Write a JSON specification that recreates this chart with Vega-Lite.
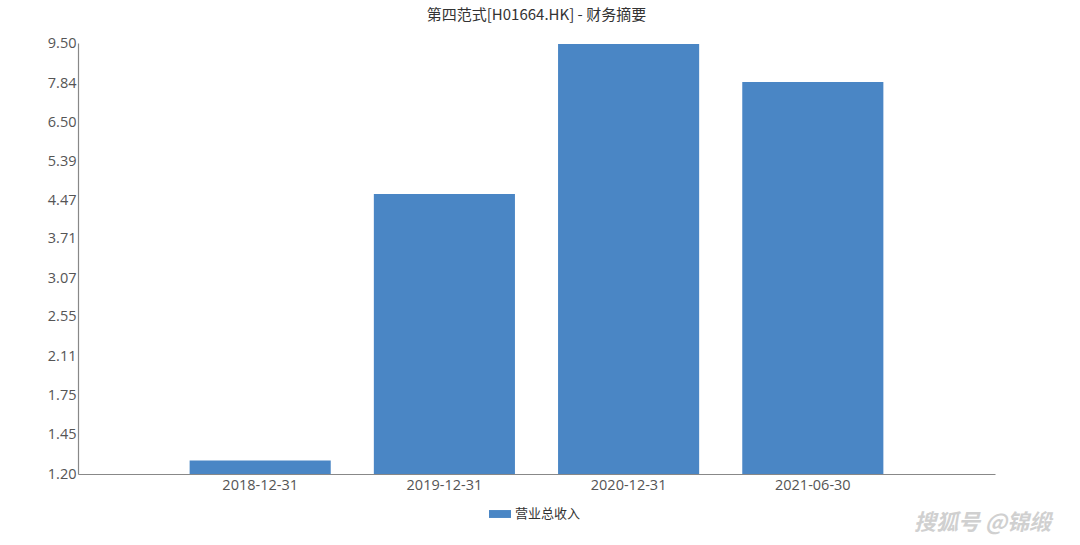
{
  "$schema": "https://vega.github.io/schema/vega-lite/v6.json",
  "width": 917,
  "height": 431,
  "autosize": {"type": "none"},
  "padding": {"left": 78, "top": 43, "right": 85, "bottom": 71},
  "background": "white",
  "title": {
    "text": "第四范式[H01664.HK] - 财务摘要",
    "font": "Noto Sans CJK SC",
    "fontSize": 15,
    "fontWeight": "normal",
    "color": "#333333",
    "anchor": "middle",
    "offset": 12
  },
  "data": {
    "values": [
      {"date": "2018-12-31", "series": "营业总收入", "value": 1.28},
      {"date": "2019-12-31", "series": "营业总收入", "value": 4.6},
      {"date": "2020-12-31", "series": "营业总收入", "value": 9.46},
      {"date": "2021-06-30", "series": "营业总收入", "value": 7.88}
    ]
  },
  "mark": {"type": "bar", "color": "#4a86c5"},
  "encoding": {
    "x": {
      "field": "date",
      "type": "nominal",
      "sort": null,
      "scale": {"paddingInner": 0.234, "paddingOuter": 0.606},
      "axis": {
        "title": "搜狐号 @锦缎",
        "titleX": 904,
        "titleY": 38,
        "titleFont": "Noto Sans CJK SC",
        "titleFontSize": 22,
        "titleFontStyle": "italic",
        "titleFontWeight": "bold",
        "titleColor": "#d0d0d0",
        "labelAngle": 0,
        "labelFont": "Open Sans",
        "labelFontSize": 14.5,
        "labelColor": "#555555",
        "labelPadding": 4,
        "ticks": false,
        "domainColor": "#888888",
        "domainWidth": 1.2
      }
    },
    "y": {
      "field": "value",
      "type": "quantitative",
      "scale": {"type": "log", "domain": [1.2, 9.5], "nice": false},
      "axis": {
        "title": null,
        "values": [1.2, 1.45, 1.75, 2.11, 2.55, 3.07, 3.71, 4.47, 5.39, 6.5, 7.84, 9.5],
        "format": ".2f",
        "labelFont": "Open Sans",
        "labelFontSize": 14.5,
        "labelColor": "#555555",
        "labelPadding": 2,
        "ticks": false,
        "grid": false,
        "domainColor": "#888888",
        "domainWidth": 1.2
      }
    },
    "y2": {"datum": 1.2},
    "fill": {
      "field": "series",
      "type": "nominal",
      "scale": {"range": ["#4a86c5"]},
      "legend": {
        "title": null,
        "orient": "none",
        "legendX": 411,
        "legendY": 460,
        "symbolType": "M-1,-0.36L1,-0.36L1,0.36L-1,0.36Z",
        "symbolSize": 484,
        "symbolStrokeWidth": 0,
        "labelFont": "Noto Sans CJK SC",
        "labelFontSize": 13,
        "labelColor": "#333333",
        "labelOffset": 4
      }
    }
  },
  "config": {
    "view": {"stroke": null}
  }
}
